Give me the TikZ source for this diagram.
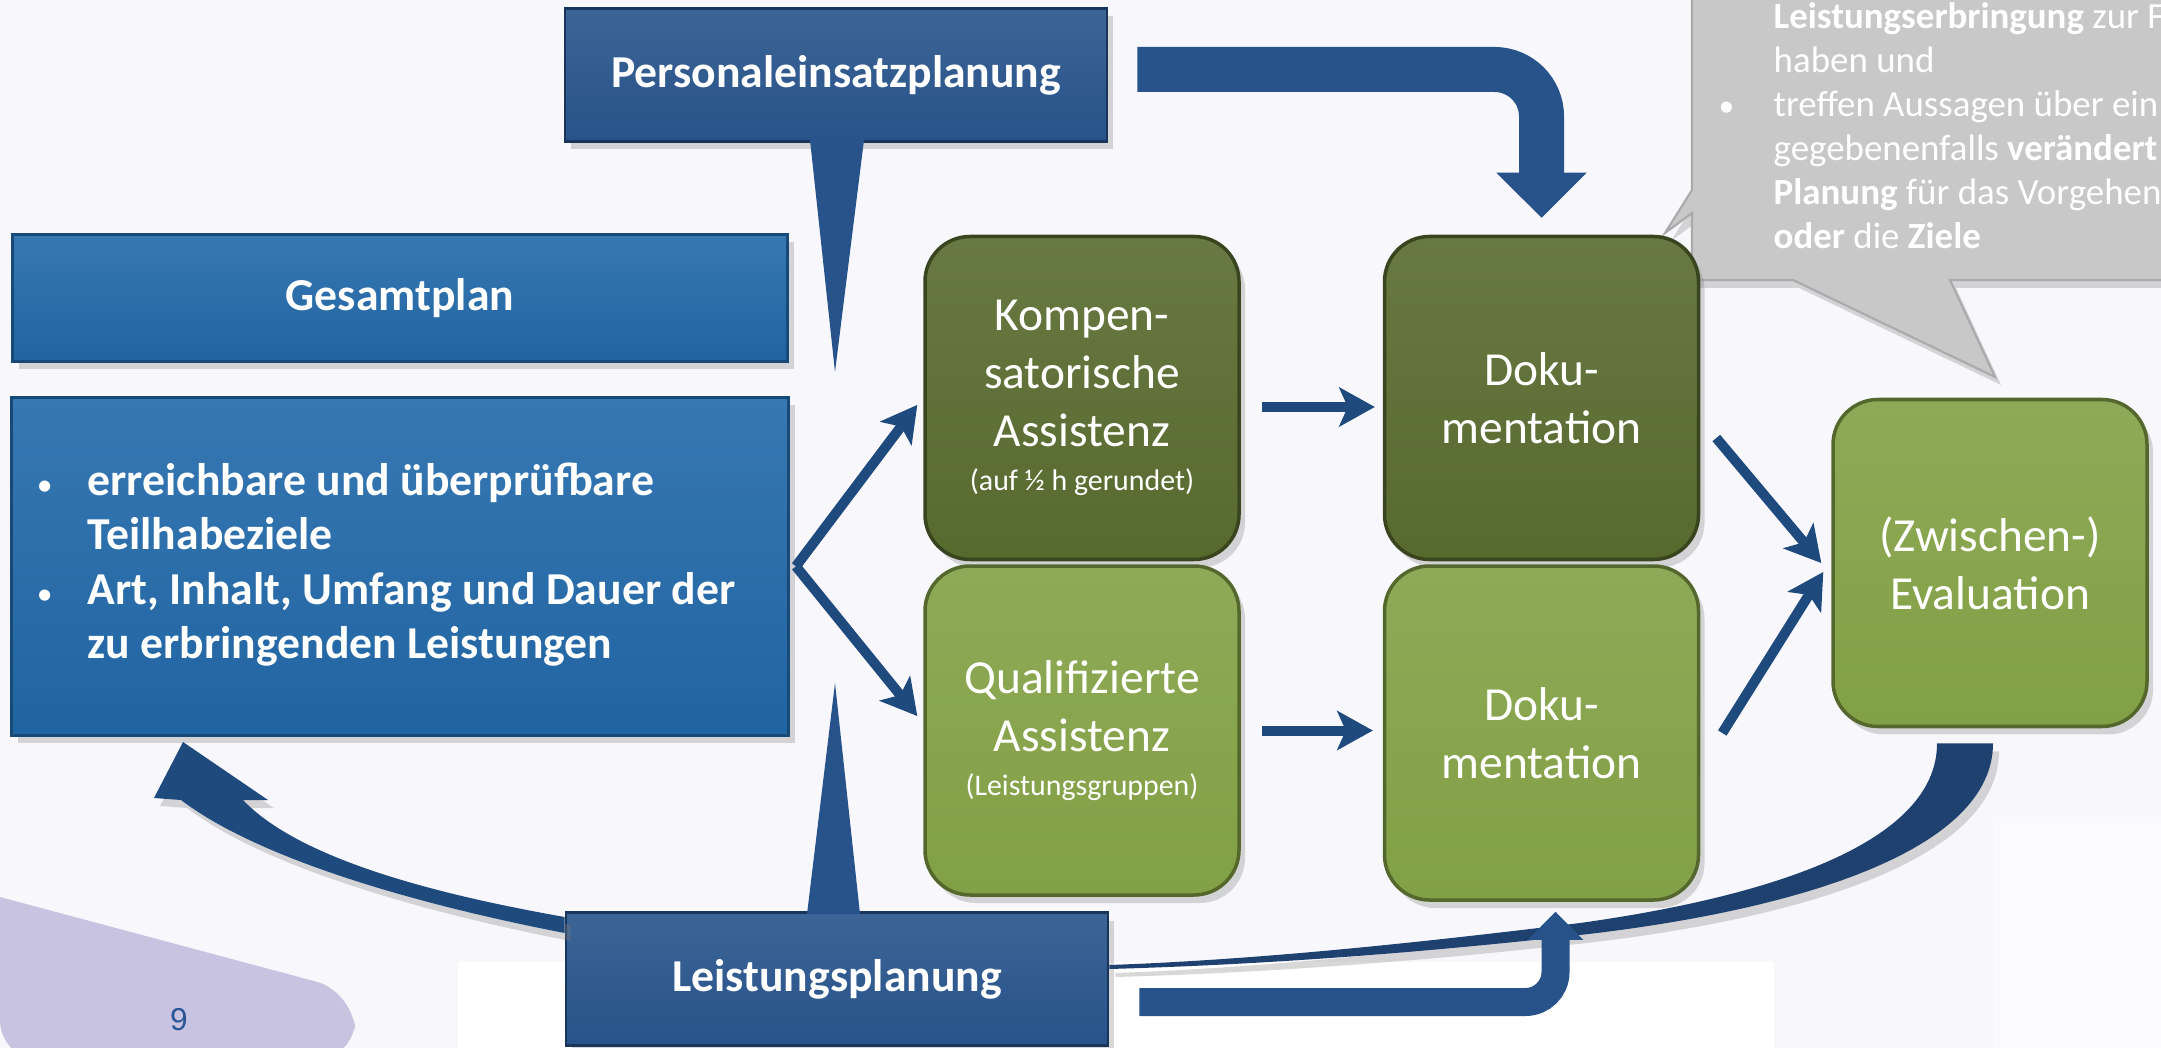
\documentclass[tikz,border=0pt]{standalone}
\usepackage{fontspec}
\setmainfont{Carlito}
\newfontfamily\pagenumfamily{Liberation Sans}
\usepackage{xcolor}
\definecolor{pageBack}{HTML}{F8F8FC}
\definecolor{planBlue}{HTML}{2169AA}
\definecolor{deepBlue}{HTML}{27538A}
\definecolor{arrowBlue}{HTML}{1F4A7E}
\definecolor{bandBlue}{HTML}{1F416F}
\definecolor{darkGreen}{HTML}{576A2E}
\definecolor{lightGreen}{HTML}{82A045}
\definecolor{noteGray}{HTML}{C8C8C8}
\definecolor{cornerLilac}{HTML}{C8C3E0}
\definecolor{numBlue}{HTML}{2A5596}
\usepackage{tikz}
\usetikzlibrary{
    arrows.meta,
    shadows,
    positioning,
    calc
}
\newcommand\planfont{\fontsize{13}{15.5}\selectfont\bfseries}
\newcommand\stagefont{\fontsize{13.5}{16.5}\selectfont}
\newcommand\notefont{\fontsize{10.5}{12.5}\selectfont}
\newcommand\tagfont{\fontsize{8.5}{10}\selectfont}
\newcommand\smalldot{{\fontsize{9}{9}\selectfont\mdseries •}}
\tikzset{
    % Base style for all boxes
    box base/.style={
        text=white,
        align=center,
        inner sep=0pt,
    },
    % Soft shadow used by boxes and filled arrows
    soft shadow/.style={
        drop shadow={
            opacity=0.3,
            shadow xshift=0.6mm,
            shadow yshift=-0.8mm
        },
    },
    % Plan boxes - bright blue, square corners
    plan box/.style={
        box base,
        font=\planfont,
        draw=planBlue!70!black,
        line width=0.8pt,
        top color=planBlue!90!white,
        bottom color=planBlue!95!black,
        soft shadow,
    },
    % Planning headers - deep blue
    head box/.style={
        box base,
        font=\planfont,
        draw=deepBlue!65!black,
        line width=0.8pt,
        top color=deepBlue!90!white,
        bottom color=deepBlue,
        minimum width=54.2mm,
        minimum height=13.3mm,
        soft shadow,
    },
    % Callout tails of the planning headers
    pointer/.style={
        fill=deepBlue,
    },
    % Assistance and documentation steps - rounded green
    dark stage/.style={
        box base,
        font=\stagefont,
        rounded corners=4.5mm,
        draw=darkGreen!65!black,
        line width=1pt,
        top color=darkGreen!90!white,
        bottom color=darkGreen,
        minimum width=31.4mm,
        minimum height=32.3mm,
        soft shadow,
    },
    light stage/.style={
        dark stage,
        draw=lightGreen!65!black,
        top color=lightGreen!90!white,
        bottom color=lightGreen,
    },
    % Thin flow arrows
    flow/.style={
        -{Stealth[length=3.6mm, width=4mm, inset=0.9mm, line width=0.4pt]},
        line width=1mm,
        draw=arrowBlue,
    },
    % Thick bent arrows
    big arrow/.style={
        -{Triangle[length=4.5mm, width=9mm, line width=0.4pt]},
        line width=4.5mm,
        draw=deepBlue,
        rounded corners=4.7mm,
    },
    mid arrow/.style={
        -{Triangle[length=2.8mm, width=5.5mm, line width=0.4pt]},
        line width=2.8mm,
        draw=deepBlue,
        rounded corners=3mm,
    },
    % Gray note bubble
    note shape/.style={
        fill=noteGray,
        draw=noteGray!85!black,
        line width=0.6pt,
        soft shadow,
    },
    note text/.style={
        font=\notefont,
        text=white,
        align=left,
        inner sep=0pt,
    },
    page number/.style={
        font=\pagenumfamily\fontsize{9}{11}\selectfont,
        text=numBlue,
    },
}

\begin{document}
\begin{tikzpicture}[x=0.1mm, y=-0.1mm]
    \path[use as bounding box] (0,0) rectangle (2161,1048);
    \clip (0,0) rectangle (2161,1048);

    % Page
    \fill[pageBack] (0,0) rectangle (2161,1048);
    \fill[white] (458,962) rectangle (1774,1048);
    \fill[white!50!pageBack] (1993,817) rectangle (2161,1048);
    \fill[cornerLilac] (0,1060) -- (0,897) [rounded corners=4mm] -- (355,992) -- (355,1060) -- cycle;
    \node[page number] (pagenum) at (179,1020) {9};

    % Gray note bubble (runs off the page)
    \filldraw[note shape] (1692,-30) -- (1692,190) -- (1665,233) -- (1692,213)
        -- (1692,280) -- (1793,280) -- (1995,377) -- (1950,280) -- (2200,280)
        -- (2200,-30) -- cycle;
    \node[note text, anchor=north west] (notetxt) at (1773,2)
        {\textbf{Leistungserbringung} zur F\\
         haben und\\
         \llap{\makebox[5.5mm][l]{\smalldot}}treffen Aussagen über ein\\
         gegebenenfalls \textbf{verändert}\\
         \textbf{Planung} für das Vorgehen\\
         \textbf{oder} die \textbf{Ziele}};

    % Plans
    \node[plan box, minimum width=77.5mm, minimum height=12.7mm] (gesamt) at (400,298) {Gesamtplan};
    \node[plan box, minimum width=77.7mm, minimum height=33.8mm, below=3.3mm of gesamt] (ziele)
        {\begin{tabular}{@{}p{5.1mm}@{}l@{\hspace{2.8mm}}}
         \smalldot & erreichbare und überprüfbare\\
                   & Teilhabeziele\\
         \smalldot & Art, Inhalt, Umfang und Dauer der\\
                   & zu erbringenden Leistungen
         \end{tabular}};

    \node[head box] (pers) at (836,75) {Personaleinsatzplanung};
    \node[head box] (lp) at (837,979) {Leistungsplanung};

    % Assistance, documentation, evaluation
    \node[dark stage] (komp) at (1082,398)
        {Kompen-\\satorische\\Assistenz\\[-4pt]{\tagfont (auf ½ h gerundet)}};
    \node[light stage, minimum height=32.9mm, below=0.3mm of komp] (qual)
        {Qualifizierte\\Assistenz\\[-4pt]{\tagfont (Leistungsgruppen)}};
    \node[dark stage, right=14.2mm of komp] (doku1) {Doku-\\mentation};
    \node[light stage, minimum height=33.4mm, below=0.3mm of doku1] (doku2) {Doku-\\mentation};
    \node[light stage, minimum height=32.7mm] (eval) at (1990,563) {(Zwischen-)\\Evaluation};

    % Callout tails
    \coordinate (perstip) at (835,372);
    \coordinate (lptip) at (835,683);
    \fill[pointer] ([xshift=-2.6mm,yshift=0.3mm]pers.south) -- (perstip) -- ([xshift=2.8mm,yshift=0.3mm]pers.south) -- cycle;
    \fill[pointer] ([xshift=-3mm,yshift=-0.3mm]lp.north) -- (lptip) -- ([xshift=2.3mm,yshift=-0.3mm]lp.north) -- cycle;

    % Feedback from evaluation back to the service plan
    \fill[bandBlue, soft shadow] ($(eval.south)+(3,15)$)
        .. controls (1993,850) and (1800,910) .. (1580,935)
        .. controls (1400,955) and (1250,965) .. ($(lp.east)+(0,-10)$)
        -- ($(lp.east)+(0,-14)$)
        .. controls (1250,960) and (1400,945) .. (1580,923)
        .. controls (1780,895) and (1937,840) .. ($(eval.south)+(-53,15)$) -- cycle;

    % Back to the overall plan
    \coordinate (backtip) at (183,742);
    \fill[arrowBlue, soft shadow] ($(lp.west)+(0,-46)$)
        .. controls (420,905) and (260,860) .. (181,800)
        -- (154,798) -- (backtip) -- (268,800) -- (243,800)
        .. controls (300,860) and (440,895) .. ($(lp.west)+(0,-62)$) -- cycle;

    % Thick arrows
    \draw[big arrow] ([xshift=2.9mm,yshift=0.55mm]pers.east) -| ([yshift=1.7mm]doku1.north);
    \draw[mid arrow] ([xshift=3mm,yshift=-2.3mm]lp.east) -| ([xshift=1.4mm,yshift=-1mm]doku2.south);

    % Flow arrows
    \draw[flow] ([xshift=0.6mm]ziele.east) -- ([xshift=-0.6mm,yshift=-0.7mm]komp.west);
    \draw[flow] ([xshift=0.6mm]ziele.east) -- ([xshift=-0.6mm,yshift=1.45mm]qual.west);
    \draw[flow] ([xshift=2.1mm,yshift=-0.9mm]komp.east) -- ([xshift=-0.8mm,yshift=-0.9mm]doku1.west);
    \draw[flow] ([xshift=2.1mm]qual.east) -- ([xshift=-1mm]qual.east -| doku2.west);
    \draw[flow] ([xshift=1.6mm,yshift=-4mm]doku1.east) -- ([xshift=-1mm]eval.west);
    \draw[flow] ([xshift=2.2mm]doku2.east) -- ([xshift=-0.8mm,yshift=-0.9mm]eval.west);
\end{tikzpicture}
\end{document}
